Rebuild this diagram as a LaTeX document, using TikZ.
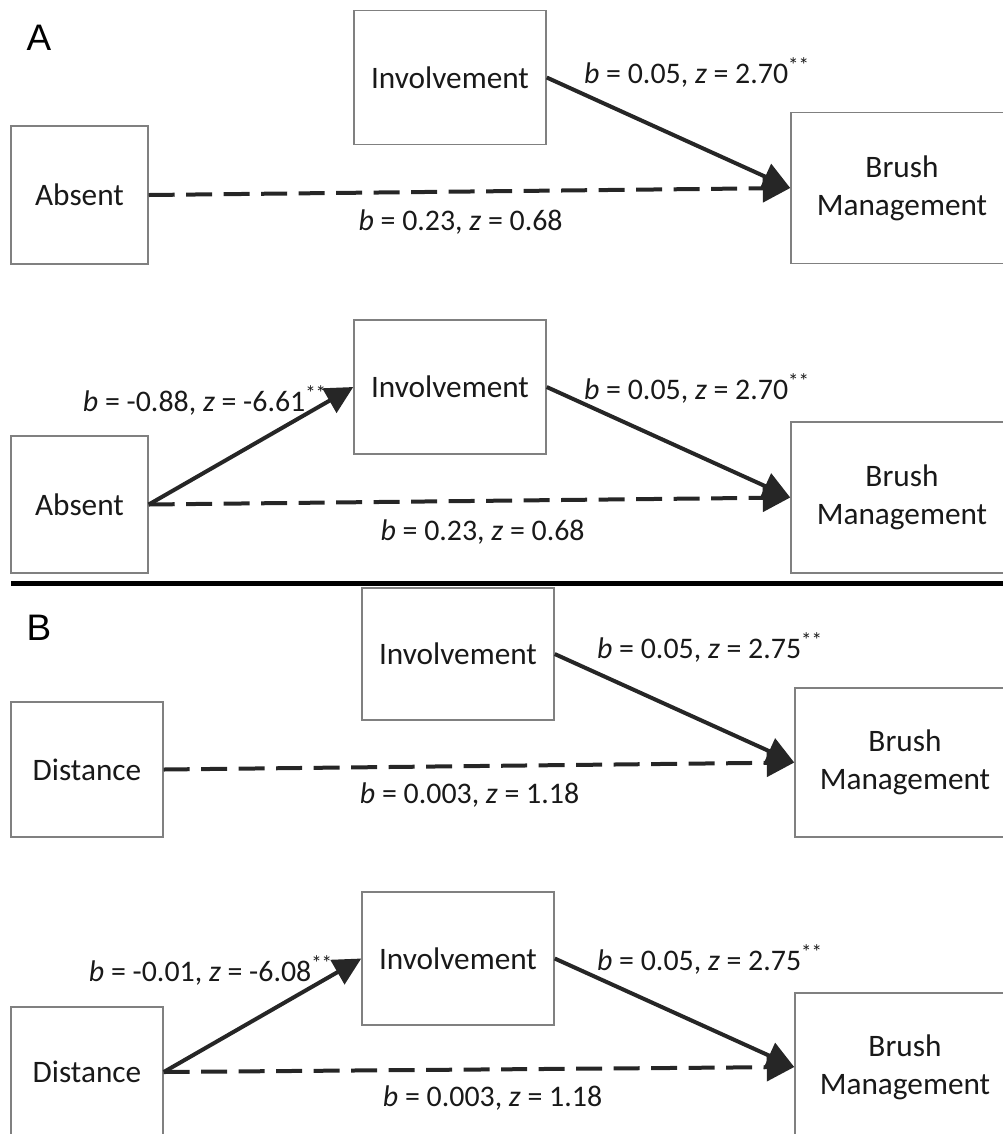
\documentclass[tikz,border=0pt]{standalone}
\usepackage{fontspec}
\setmainfont{Carlito}
\newfontfamily\panelfont{Liberation Sans}
\usepackage{tikz}
\usetikzlibrary{arrows.meta}
\tikzset{
  varbox/.style={draw=black!50, line width=0.03cm, minimum width=3.84cm, minimum height=2.68cm,
    inner sep=0pt, align=center, text=black!90, font=\fontsize{17.8}{21.5}\selectfont},
  brushbox/.style={minimum width=4.44cm, minimum height=3.02cm},
  effect/.style={line width=0.08cm, draw=black!85, -{Triangle[length=0.55cm,width=0.55cm]}},
  direct/.style={effect, dash pattern=on 0.52cm off 0.23cm},
  coef/.style={inner sep=0pt, text=black!90, font=\fontsize{17}{20}\selectfont},
  panel/.style={inner sep=0pt, font=\panelfont\fontsize{21}{24}\selectfont}
}
\newcommand{\bzlabel}[3]{\textit{b} = #1, \textit{z} = #2\textsuperscript{#3}}

\begin{document}
\begin{tikzpicture}[x=0.02cm, y=-0.02cm]
		%%%%% START %%%%%
		\useasboundingbox (0, 0) rectangle (1003, 1134);
		\clip (0, 0) rectangle (1003, 1134);
		
		% A: total effect
		\node[panel] (labA) at (39, 38) {A};
		\node[varbox] (inv1) at (450, 77.5) {Involvement};
		\node[varbox, minimum width=2.74cm, minimum height=2.76cm] (abs1) at (79.5, 195) {Absent};
		\node[varbox, brushbox] (bm1) at (902, 188) {Brush\\Management};
		\draw[effect] (inv1.east) -- (bm1.west);
		\draw[direct] (abs1.east) -- (bm1.west);
		\node[coef] (c1ib) at (697, 72) {\bzlabel{0.05}{2.70}{**}};
		\node[coef] (c1ab) at (461, 222) {\bzlabel{0.23}{0.68}{}};
		
		% A: mediated
		\node[varbox] (inv2) at (450, 387) {Involvement};
		\node[varbox, minimum width=2.74cm, minimum height=2.74cm] (abs2) at (79.5, 504.5) {Absent};
		\node[varbox, brushbox] (bm2) at (902, 497.5) {Brush\\Management};
		\draw[effect] (abs2.east) -- (inv2.west);
		\draw[effect] (inv2.east) -- (bm2.west);
		\draw[direct] (abs2.east) -- (bm2.west);
		\node[coef] (c2ai) at (205, 400) {\bzlabel{-0.88}{-6.61}{**}};
		\node[coef] (c2ib) at (697, 388) {\bzlabel{0.05}{2.70}{**}};
		\node[coef] (c2ab) at (483, 532) {\bzlabel{0.23}{0.68}{}};
		
		\draw[line width=0.1cm] (11, 583) -- (1003, 583);
		
		% B: total effect
		\node[panel] (labB) at (39, 628) {B};
		\node[varbox, minimum height=2.64cm] (inv3) at (458, 654) {Involvement};
		\node[varbox, minimum width=3.04cm, minimum height=2.7cm] (dist3) at (87, 769.5) {Distance};
		\node[varbox, brushbox, minimum width=4.4cm, minimum height=2.98cm] (bm3) at (905, 762.5) {Brush\\Management};
		\draw[effect] (inv3.east) -- (bm3.west);
		\draw[direct] (dist3.east) -- (bm3.west);
		\node[coef] (c3ib) at (710, 647) {\bzlabel{0.05}{2.75}{**}};
		\node[coef] (c3db) at (470, 795) {\bzlabel{0.003}{1.18}{}};
		
		% B: mediated
		\node[varbox, minimum height=2.66cm] (inv4) at (458, 958.5) {Involvement};
		\node[varbox, minimum width=3.04cm, minimum height=2.6cm] (dist4) at (87, 1072) {Distance};
		\node[varbox, brushbox, minimum width=4.4cm, minimum height=2.96cm] (bm4) at (905, 1067) {Brush\\Management};
		\draw[effect] (dist4.east) -- (inv4.west);
		\draw[effect] (inv4.east) -- (bm4.west);
		\draw[direct] (dist4.east) -- (bm4.west);
		\node[coef] (c4di) at (211, 970) {\bzlabel{-0.01}{-6.08}{**}};
		\node[coef] (c4ib) at (710, 959) {\bzlabel{0.05}{2.75}{**}};
		\node[coef] (c4db) at (493, 1098) {\bzlabel{0.003}{1.18}{}};
		
		%%%%% END %%%%%
	\end{tikzpicture}
\end{document}
